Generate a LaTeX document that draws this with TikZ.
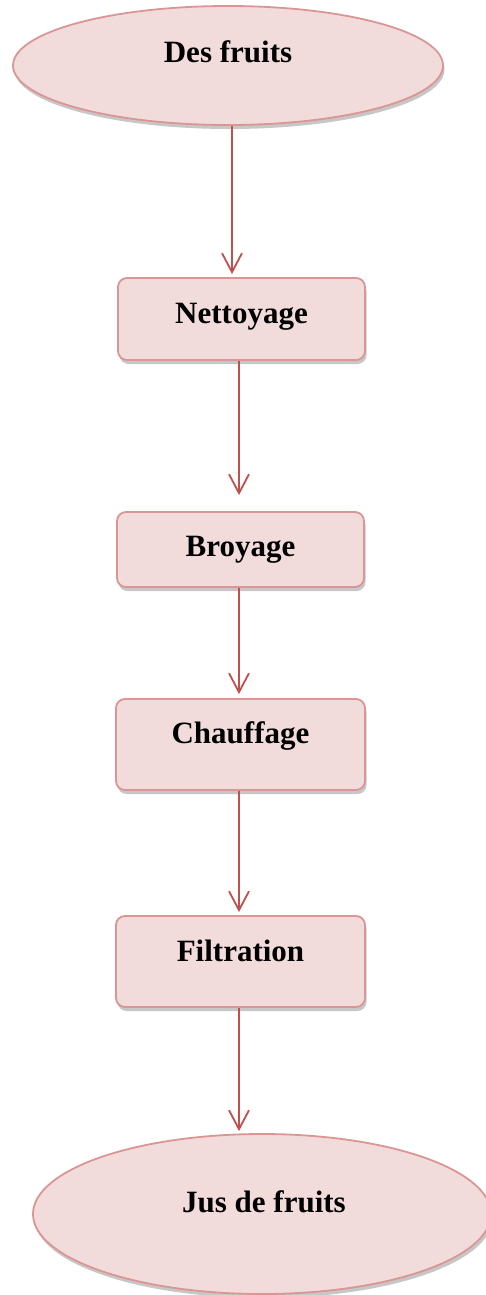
\documentclass[tikz,border=0pt]{standalone}
\usepackage{fontspec}
\setmainfont{Liberation Serif}
\usetikzlibrary{shapes.geometric,arrows.meta,shadows}
\definecolor{boxfill}{HTML}{F2DCDB}
\definecolor{boxline}{HTML}{D99694}
\definecolor{arrcol}{HTML}{C0504D}
\tikzset{
  sh/.style={drop shadow={shadow xshift=1.5pt,shadow yshift=-4pt,fill=black,opacity=0.22}},
  stepbox/.style={draw=boxline,fill=boxfill,line width=1.8pt,rounded corners=9pt,sh,
    inner sep=0pt,anchor=base,font=\fontsize{31}{36}\selectfont\bfseries},
  oval/.style={ellipse,draw=boxline,fill=boxfill,line width=1.8pt,sh,inner sep=0pt},
  lbl/.style={anchor=base,inner sep=0pt,font=\fontsize{31}{36}\selectfont\bfseries},
  arr/.style={draw=arrcol,line width=1.8pt,-{Straight Barb[length=19pt,width=20pt,line width=1.8pt]}}
}
\begin{document}
\begin{tikzpicture}[x=1pt,y=-1pt]
\useasboundingbox (0,0) rectangle (485,1295);
\node[oval,minimum width=430pt,minimum height=119pt] (top) at (228,65.5) {};
\node[lbl] (toptxt) at (228,63) {Des fruits};
\node[stepbox,minimum width=247pt,text height=45pt,text depth=37pt] (nett) at (241.5,323) {Nettoyage};
\node[stepbox,minimum width=247pt,text height=44pt,text depth=31pt] (broy) at (240.5,556) {Broyage};
\node[stepbox,minimum width=249pt,text height=44pt,text depth=47pt] (chauf) at (240.5,743) {Chauffage};
\node[stepbox,minimum width=249pt,text height=45pt,text depth=46pt] (filt) at (240.5,961) {Filtration};
\node[oval,minimum width=458pt,minimum height=160pt] (bot) at (262,1214) {};
\node[lbl] (bottxt) at (264,1212) {Jus de fruits};
\draw[arr,shorten >=3pt] ([xshift=4pt]top.south) -- ([xshift=-9.5pt]nett.north);
\draw[arr,shorten >=16pt] ([xshift=-2.5pt]nett.south) -- ([xshift=-1.5pt]broy.north);
\draw[arr,shorten >=4pt] ([xshift=-1.5pt]broy.south) -- ([xshift=-1.5pt]chauf.north);
\draw[arr,shorten >=3pt] ([xshift=-1.5pt]chauf.south) -- ([xshift=-1.5pt]filt.north);
\draw[arr,shorten >=2pt] ([xshift=-1.5pt]filt.south) -- ([xshift=-1.5pt]filt.south |- bot.north);
\end{tikzpicture}
\end{document}
